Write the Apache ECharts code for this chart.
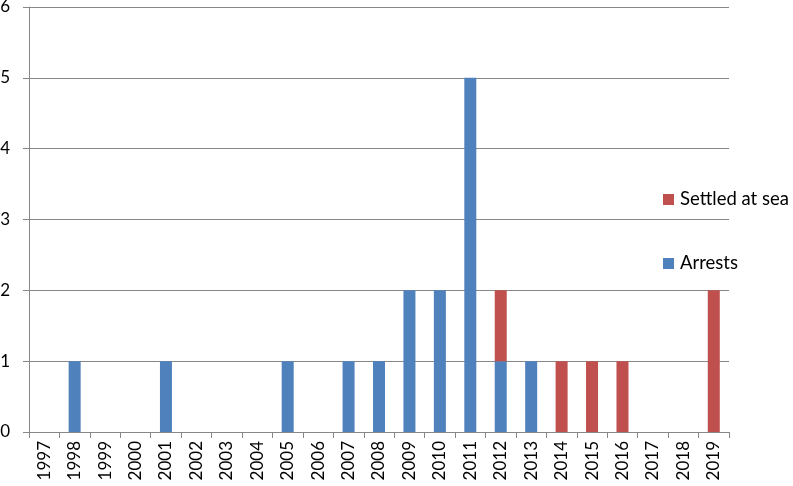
<!DOCTYPE html>
<html><head><meta charset="utf-8">
<script src="https://cdn.jsdelivr.net/npm/echarts@6/dist/echarts.min.js"></script>
<style>html,body{margin:0;padding:0;background:#fff}#c{width:793px;height:486px}</style>
</head><body><div id="c"></div>
<script>
var years = ['1997','1998','1999','2000','2001','2002','2003','2004','2005','2006','2007','2008','2009','2010','2011','2012','2013','2014','2015','2016','2017','2018','2019'];
var arrests = [0,1,0,0,1,0,0,0,1,0,1,1,2,2,5,1,1,0,0,0,0,0,0];
var settledAtSea = [0,0,0,0,0,0,0,0,0,0,0,0,0,0,0,1,0,1,1,1,0,0,2];
var yTicks = [0,1,2,3,4,5,6];

var chart = echarts.init(document.getElementById('c'));
var font = 'Lato, "Open Sans", sans-serif';
chart.setOption({
  animation:false,
  textStyle:{fontFamily:font},
  grid:{left:29,right:64,top:7,bottom:54,containLabel:false,outerBoundsMode:'none'},
  legend:{
    orient:'vertical', left:663, top:190, itemWidth:11, itemHeight:11, itemGap:45,
    icon:'rect', padding:0,
    data:['Settled at sea','Arrests'],
    textStyle:{fontSize:18.5,color:'#000',fontFamily:font,padding:[0,0,0,1]}
  },
  xAxis:{
    type:'category', data:years,
    axisLine:{lineStyle:{color:'#888',width:1}},
    axisTick:{show:true,length:6,lineStyle:{color:'#888'}},
    axisLabel:{rotate:90,fontSize:17,color:'#000',margin:9,fontFamily:font}
  },
  yAxis:{
    type:'value', min:yTicks[0], max:yTicks[yTicks.length-1], interval:1,
    axisLine:{show:true,lineStyle:{color:'#888'}},
    axisTick:{show:true,length:6,lineStyle:{color:'#888'}},
    axisLabel:{fontSize:17,color:'#000',margin:19,fontFamily:font},
    splitLine:{lineStyle:{color:'#888'}}
  },
  series:[
    {name:'Arrests',type:'bar',stack:'s',data:arrests,barWidth:12,itemStyle:{color:'#4F81BD'}},
    {name:'Settled at sea',type:'bar',stack:'s',data:settledAtSea,barWidth:12,itemStyle:{color:'#C0504D'}}
  ]
});
</script></body></html>
